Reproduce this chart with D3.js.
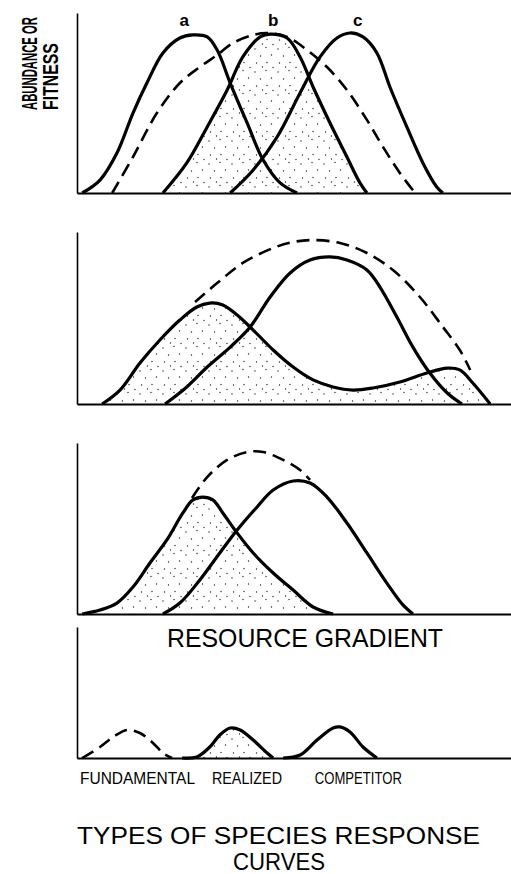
<!DOCTYPE html>
<html>
<head>
<meta charset="utf-8">
<script src="https://cdn.jsdelivr.net/npm/d3@7"></script>
<style>
  html, body { margin: 0; padding: 0; background: #fff; }
  svg { display: block; }
</style>
</head>
<body>
<svg id="chart" width="511" height="874"></svg>
<script>
// Each curve: [position on resource gradient (0-100), abundance (0-100 of panel height)]

// Panel 1 — three species a, b, c and the fundamental niche of b
const p1SpeciesA = [[1.2,0],[5.3,7.2],[9.2,22.2],[12.9,44.4],[16.1,61.1],[19.8,77.8],[23.7,86.1],[26.7,87.8],[30.0,86.7],[32.3,79.4],[35.3,61.1],[39.2,38.9],[42.9,18.3],[46.8,5.6],[50.7,0]];
const p1Fundamental = [[8.1,0],[12.9,20],[18.4,44.4],[23.7,61.1],[28.3,70],[32.3,76.7],[35.9,83.3],[40.6,87.8],[43.8,88.9],[48.4,86.7],[53.0,79.4],[57.6,70],[62.2,57.2],[66.8,40.6],[70.5,25.6],[74.4,11.1],[77.9,0]];
const p1SpeciesB = [[19.8,0],[25.3,16.7],[30.0,36.7],[34.6,57.2],[38.2,75.6],[42.2,86.7],[44.5,88.3],[48.4,86.1],[51.4,75.6],[54.4,58.9],[58.3,38.9],[62.2,20],[65.2,5.6],[66.8,0]];
const p1SpeciesC = [[35.3,0],[40.6,12.8],[46.1,31.1],[51.4,55.6],[56.0,75.6],[59.9,86.1],[62.9,88.9],[65.9,86.7],[69.1,77.8],[72.1,58.9],[76.0,36.7],[79.7,16.7],[82.9,3.3],[84.3,0]];
const speciesLabels = ["a", "b", "c"];
const speciesLabelPos = [24.7, 45.2, 64.7];

// Panel 2 — bimodal realized niche pushed aside by a dominant competitor
const p2Realized = [[5.8,0],[9.9,8.1],[14.5,23.8],[19.1,37.2],[23.7,48.8],[27.6,56.4],[30.6,58.7],[33.6,57.6],[36.9,51.7],[40.6,43.0],[45.2,31.4],[49.8,21.5],[54.4,14.0],[59.0,9.9],[63.6,8.1],[68.2,9.3],[74.4,12.8],[80.6,18.0],[85.3,20.9],[88.2,19.8],[91.2,12.2],[95.2,0]];
const p2Competitor = [[20.3,0],[25.3,9.9],[30.0,21.5],[35.3,33.1],[39.9,44.8],[44.5,62.2],[49.1,76.2],[53.7,83.7],[58.3,85.5],[62.2,83.7],[66.8,77.9],[69.8,68.0],[73.7,50.6],[77.4,33.1],[81.3,18.0],[85.3,6.4],[88.7,0]];
const p2Fundamental = [[27.2,59.3],[32.3,70.3],[38.2,82.0],[45.2,90.7],[49.8,94.2],[54.4,95.3],[60.6,93.6],[66.8,87.8],[72.8,77.9],[79.0,62.2],[84.3,44.8],[88.2,31.4],[90.6,19.8]];

// Panel 3 — realized niche truncated on its upper side
const p3Realized = [[1.2,0],[5.3,2.3],[9.2,6.4],[12.9,15.8],[16.8,29.8],[20.7,43.3],[24.4,59.1],[26.7,66.7],[29.0,68.4],[31.3,66.7],[33.6,59.1],[36.9,47.4],[40.6,35.7],[45.2,24.0],[49.8,14.0],[54.4,4.1],[59.0,0]];
const p3Competitor = [[19.8,0],[23.7,6.4],[28.3,19.9],[32.9,35.7],[36.9,49.1],[41.5,62.6],[45.2,72.5],[49.8,77.8],[53.7,76.6],[57.6,68.4],[62.2,53.2],[66.8,35.7],[71.4,18.1],[75.1,5.3],[77.4,0]];
const p3Fundamental = [[26.5,67.8],[30.0,80.1],[34.6,90.1],[39.2,94.7],[42.9,94.7],[47.5,90.1],[51.4,84.2],[53.7,78.4]];

// Panel 4 — key to the line styles
const p4Fundamental = [[1.2,0],[5.3,8.4],[8.3,16.0],[11.5,21.4],[14.5,19.1],[17.5,11.5],[19.8,3.8],[21.9,0]];
const p4Realized = [[24.2,0],[27.6,0.8],[30.6,8.4],[32.9,17.6],[35.3,22.9],[37.6,21.4],[40.6,13.7],[43.8,3.8],[45.2,0]];
const p4Competitor = [[47.5,0],[51.4,2.3],[55.3,13.7],[59.0,22.9],[60.6,23.7],[62.9,19.8],[65.9,8.4],[69.1,0]];
const responseTypes = ["FUNDAMENTAL", "REALIZED", "COMPETITOR"];
const responseTypePos = [0.7, 31.1, 54.8];

const svg = d3.select("#chart");
const W = 511;
const axisX = 77;
const FONT = "Liberation Sans, Arial, sans-serif";

// sparse stipple texture for realized niches
const defs = svg.append("defs");
const pat = defs.append("pattern")
  .attr("id", "stipple")
  .attr("patternUnits", "userSpaceOnUse")
  .attr("width", 23).attr("height", 23);
[[2,3],[13,1.5],[7.5,10],[18.5,9],[3.5,17],[14,16.5],[20,21.5],[9.5,21]].forEach(([cx, cy]) => {
  pat.append("circle").attr("cx", cx).attr("cy", cy).attr("r", 0.7).attr("fill", "#222");
});

const x = d3.scaleLinear().domain([0, 100]).range([axisX, W]);

const panels = [
  { top: 13,  base: 193, fill: p1SpeciesB,
    series: [ {d: p1SpeciesA}, {d: p1Fundamental, dash: true}, {d: p1SpeciesB}, {d: p1SpeciesC} ] },
  { top: 232, base: 404, fill: p2Realized,
    series: [ {d: p2Realized}, {d: p2Competitor}, {d: p2Fundamental, dash: true} ] },
  { top: 443, base: 614, fill: p3Realized,
    series: [ {d: p3Realized}, {d: p3Competitor}, {d: p3Fundamental, dash: true} ] },
  { top: 627, base: 758, fill: p4Realized,
    series: [ {d: p4Fundamental, dash: true}, {d: p4Realized}, {d: p4Competitor} ] }
];

panels.forEach(p => {
  const y = d3.scaleLinear().domain([0, 100]).range([p.base, p.top]);
  const g = svg.append("g");
  const curve = d3.curveCatmullRom.alpha(0.5);

  const line = d3.line().x(d => x(d[0])).y(d => Math.min(y(d[1]), p.base)).curve(curve);
  const area = d3.area().x(d => x(d[0])).y0(y(0)).y1(d => y(d[1])).curve(curve);

  g.append("path").datum(p.fill).attr("d", area).attr("fill", "url(#stipple)");

  // plain L-shaped frame: no ticks, no labels
  g.append("g").attr("transform", `translate(${axisX},0)`)
    .call(d3.axisLeft(y).ticks(0).tickSizeOuter(0))
    .call(a => a.select(".domain").attr("stroke", "#000").attr("stroke-width", 1.6));
  g.append("g").attr("transform", `translate(0,${p.base})`)
    .call(d3.axisBottom(x).ticks(0).tickSizeOuter(0))
    .call(a => a.select(".domain").attr("stroke", "#000").attr("stroke-width", 2));

  p.series.forEach(s => {
    g.append("path").datum(s.d).attr("d", line)
      .attr("fill", "none").attr("stroke", "#000")
      .attr("stroke-width", s.dash ? 2.6 : 3.2)
      .attr("stroke-linejoin", "round")
      .attr("stroke-dasharray", s.dash ? "13,7" : null);
  });
});

// species letters over panel 1
svg.selectAll("text.sp").data(speciesLabels).join("text")
  .attr("class", "sp")
  .attr("x", (d, i) => x(speciesLabelPos[i]))
  .attr("y", 26)
  .attr("text-anchor", "middle")
  .attr("font-family", FONT)
  .attr("font-weight", "bold")
  .attr("font-size", 17)
  .text(d => d);

// vertical axis title: two lines of condensed bold lettering
const yTitle = [["ABUNDANCE OR", 37, 93], ["FITNESS", 58, 67]];
yTitle.forEach(([t, bx, len]) => {
  const txt = svg.append("text")
    .attr("font-family", FONT)
    .attr("font-weight", "bold")
    .attr("font-size", 22)
    .text(t);
  const natural = txt.node().getComputedTextLength();
  txt.attr("transform", `translate(${bx},110) rotate(-90) scale(${len / natural},1)`);
});

// gradient caption under panel 3
svg.append("text")
  .attr("x", 167).attr("y", 647)
  .attr("font-family", FONT)
  .attr("font-size", 26)
  .attr("textLength", 276)
  .attr("lengthAdjust", "spacingAndGlyphs")
  .text("RESOURCE GRADIENT");

// key labels under panel 4
const keyLen = [115, 70, 87];
svg.selectAll("text.key").data(responseTypes).join("text")
  .attr("class", "key")
  .attr("x", (d, i) => x(responseTypePos[i]))
  .attr("y", 784)
  .attr("font-family", FONT)
  .attr("font-size", 16)
  .attr("textLength", (d, i) => keyLen[i])
  .attr("lengthAdjust", "spacingAndGlyphs")
  .text(d => d);

// figure title
svg.append("text")
  .attr("x", 77).attr("y", 844)
  .attr("font-family", FONT)
  .attr("font-size", 24)
  .attr("textLength", 403)
  .attr("lengthAdjust", "spacingAndGlyphs")
  .text("TYPES OF SPECIES RESPONSE");
svg.append("text")
  .attr("x", 233).attr("y", 870)
  .attr("font-family", FONT)
  .attr("font-size", 24)
  .attr("textLength", 92)
  .attr("lengthAdjust", "spacingAndGlyphs")
  .text("CURVES");
</script>
</body>
</html>
